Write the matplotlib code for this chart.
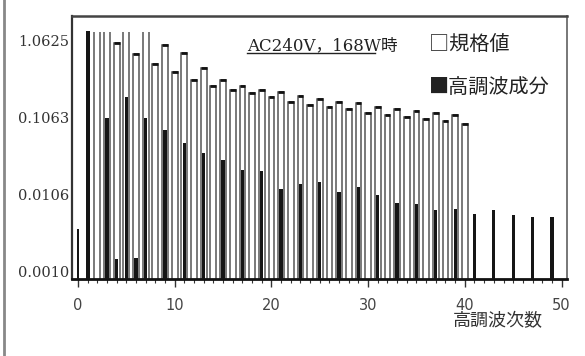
import numpy as np
import matplotlib.pyplot as plt
from matplotlib.lines import Line2D
from matplotlib.patches import Rectangle
from matplotlib.ticker import FixedLocator, MultipleLocator, NullFormatter

# 規格値 (limit) per harmonic order 2..40
limit_orders = list(range(2, 41))
limit_vals = [1.40, 1.40, 0.97, 1.40, 0.70, 1.40, 0.52, 0.93, 0.41, 0.72,
              0.32, 0.46, 0.27, 0.32, 0.237, 0.27, 0.22, 0.237, 0.193, 0.224,
              0.17, 0.199, 0.152, 0.182, 0.143, 0.17, 0.136, 0.162, 0.12, 0.143,
              0.113, 0.136, 0.107, 0.127, 0.100, 0.12, 0.094, 0.113, 0.088]

# measured 高調波成分
harm_orders = [0, 1, 3, 4, 5, 6, 7, 9, 11, 13, 15, 17, 19, 21, 23, 25, 27,
               29, 31, 33, 35, 37, 39, 41, 43, 45, 47, 49]
harm_vals = [0.0038, 1.40, 0.105, 0.00157, 0.193, 0.0016, 0.105, 0.072,
             0.050, 0.037, 0.030, 0.0224, 0.0212, 0.0125, 0.0147, 0.0156,
             0.0115, 0.0135, 0.0106, 0.0082, 0.0080, 0.0068, 0.0070, 0.0060,
             0.0068, 0.0058, 0.0055, 0.0055]

ytick_vals = [0.0010625, 0.010625, 0.10625, 1.0625]
ytick_labels = ["0.0010", "0.0106", "0.1063", "1.0625"]
xtick_vals = [0, 10, 20, 30, 40, 50]

cut = 1.40  # bars at this level run off the drawn range

fig = plt.figure(figsize=(5.85, 3.56), dpi=100)
ax = fig.add_axes([0.1231, 0.2163, 0.8462, 0.7388])
ax.set_yscale("log")
ax.set_xlim(-0.62, 50.57)
ax.set_ylim(0.000861, 2.18)
ybot = ax.get_ylim()[0]

base = 1e-4
lo = np.array(limit_orders)
lv = np.array(limit_vals)
hollow = ax.bar(lo, lv - base, bottom=base, width=0.6, color="white",
                edgecolor="#555555", linewidth=1.1, zorder=2)
# open-topped bars for the orders that run off the top
clip = Rectangle((-1, ybot), 53, cut * 0.98 - ybot, transform=ax.transData)
for patch, v in zip(hollow, lv):
    if v >= cut:
        patch.set_clip_path(clip)
capped = lv < cut
ax.hlines(lv[capped], lo[capped] - 0.3, lo[capped] + 0.3,
          color="#111111", linewidth=2.0, zorder=3)

ho = np.array(harm_orders)
hv = np.array(harm_vals)
widths = np.where(ho == 1, 0.45, np.where(ho == 0, 0.22, 0.34))
ax.bar(ho, hv - base, bottom=base, width=widths, color="#151515",
       edgecolor="none", zorder=4)

ax.yaxis.set_major_locator(FixedLocator(ytick_vals))
ax.set_yticklabels(ytick_labels, fontfamily="DejaVu Serif", fontsize=10.5,
                   color="#333333")
ax.yaxis.set_minor_locator(FixedLocator([]))
ax.yaxis.set_minor_formatter(NullFormatter())
ax.tick_params(axis="y", length=0, pad=2)

ax.xaxis.set_major_locator(FixedLocator(xtick_vals))
ax.xaxis.set_minor_locator(MultipleLocator(1))
ax.set_xticklabels([str(v) for v in xtick_vals], fontfamily="DejaVu Sans",
                   fontsize=10.5, color="#444444")
ax.tick_params(axis="x", which="major", direction="out", length=6,
               width=1.0, color="#333333", pad=8)
ax.tick_params(axis="x", which="minor", direction="out", length=3,
               width=0.8, color="#333333")

for side, lw, col in [("top", 1.8, "#444444"), ("left", 1.6, "#333333"),
                      ("bottom", 2.0, "#111111"), ("right", 1.4, "#777777")]:
    ax.spines[side].set_linewidth(lw)
    ax.spines[side].set_color(col)

jp = ["Noto Sans CJK JP", "DejaVu Sans"]
ax.text(0.354, 0.871, "AC240V，168W時", transform=ax.transAxes,
        fontsize=12, family=["DejaVu Serif", "Noto Sans CJK JP"],
        color="#222222", va="baseline", ha="left")
ax.add_line(Line2D([0.354, 0.612], [0.859, 0.859], transform=ax.transAxes,
                   color="#222222", linewidth=1.0))

ax.text(0.721, 0.89, "□規格値", transform=ax.transAxes, fontsize=14.5,
        family=jp, color="#222222", va="center", ha="left")
ax.text(0.721, 0.726, "■高調波成分", transform=ax.transAxes, fontsize=14.5,
        family=jp, color="#222222", va="center", ha="left")

fig.text(0.774, 0.098, "高調波次数", fontsize=13, family=jp,
         color="#333333", va="center", ha="left")

# outer frame edge on the left
fig.add_artist(Line2D([0.006, 0.006], [0, 1], transform=fig.transFigure,
                      color="#888888", linewidth=2.0))

fig.savefig("out.png", dpi=100)
